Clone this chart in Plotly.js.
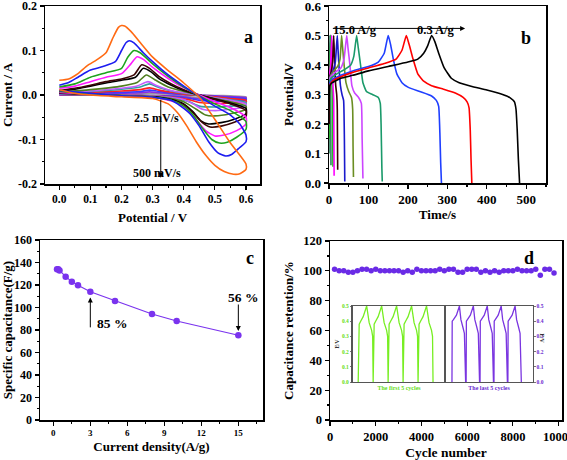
<!DOCTYPE html>
<html><head><meta charset="utf-8">
<script src="https://cdn.plot.ly/plotly-3.0.1.min.js"></script>
<style>body{margin:0;padding:0;background:#fff}#chart{width:567px;height:460px}</style>
</head><body><div id="chart"></div>
<script>
// ---------- Panel a: CV curves (potential V, current A) ----------
const cvLabels = ["500 mV/s","400 mV/s","300 mV/s","200 mV/s","150 mV/s","100 mV/s","75 mV/s","50 mV/s","25 mV/s","10 mV/s","5 mV/s","2.5 mV/s","1 mV/s"];
const cv1_v = [0,0.03,0.06,0.09,0.12,0.15,0.17,0.19,0.2,0.21,0.23,0.26,0.3,0.35,0.4,0.45,0.5,0.55,0.6,0.6,0.58,0.56,0.53,0.5,0.47,0.44,0.41,0.38,0.35,0.3,0.2,0.1,0.05,0];
const cv1_i = [0.033,0.036,0.048,0.066,0.079,0.095,0.125,0.152,0.156,0.155,0.143,0.118,0.085,0.055,0.027,-0.005,-0.055,-0.108,-0.155,-0.167,-0.177,-0.178,-0.172,-0.158,-0.135,-0.105,-0.07,-0.04,-0.02,-0.008,-0.004,0.0,0.004,0.012];
const cv2_v = [0,0.03,0.06,0.1,0.14,0.18,0.2,0.215,0.225,0.24,0.27,0.3,0.35,0.4,0.45,0.5,0.55,0.58,0.6,0.6,0.58,0.555,0.535,0.51,0.48,0.45,0.42,0.39,0.36,0.3,0.2,0.1,0];
const cv2_i = [0.022,0.028,0.04,0.056,0.064,0.075,0.1,0.118,0.122,0.117,0.095,0.075,0.045,0.02,-0.003,-0.025,-0.045,-0.065,-0.09,-0.105,-0.118,-0.133,-0.137,-0.13,-0.105,-0.07,-0.042,-0.025,-0.012,-0.005,-0.002,0.004,0.01];
const cv3_v = [0,0.05,0.1,0.15,0.2,0.22,0.24,0.26,0.3,0.35,0.4,0.45,0.5,0.55,0.6,0.6,0.57,0.54,0.515,0.49,0.46,0.43,0.4,0.36,0.3,0.2,0.1,0];
const cv3_i = [0.018,0.025,0.04,0.05,0.06,0.085,0.1,0.095,0.07,0.042,0.018,-0.002,-0.02,-0.035,-0.06,-0.077,-0.095,-0.106,-0.108,-0.1,-0.075,-0.045,-0.025,-0.012,-0.005,-0.002,0.003,0.008];
const cv4_v = [0,0.05,0.1,0.15,0.2,0.23,0.25,0.27,0.3,0.35,0.4,0.45,0.5,0.55,0.6,0.6,0.57,0.53,0.5,0.47,0.44,0.41,0.38,0.34,0.3,0.2,0.1,0];
const cv4_i = [0.015,0.02,0.03,0.04,0.048,0.07,0.086,0.08,0.062,0.037,0.016,0.0,-0.015,-0.028,-0.05,-0.065,-0.08,-0.09,-0.092,-0.08,-0.055,-0.032,-0.018,-0.01,-0.005,-0.002,0.002,0.006];
const cv5_v = [0,0.05,0.1,0.15,0.2,0.24,0.265,0.29,0.32,0.36,0.4,0.45,0.5,0.55,0.6,0.6,0.56,0.52,0.485,0.46,0.43,0.4,0.36,0.3,0.2,0.1,0];
const cv5_i = [0.01,0.015,0.022,0.03,0.036,0.045,0.068,0.06,0.042,0.025,0.012,0.0,-0.01,-0.02,-0.035,-0.048,-0.062,-0.07,-0.072,-0.062,-0.04,-0.022,-0.012,-0.005,-0.002,0.002,0.005];
const cv6_v = [0,0.05,0.1,0.15,0.2,0.245,0.27,0.295,0.32,0.36,0.4,0.45,0.5,0.55,0.6,0.6,0.56,0.52,0.48,0.455,0.43,0.4,0.36,0.3,0.2,0.1,0];
const cv6_i = [0.008,0.013,0.02,0.027,0.033,0.04,0.06,0.052,0.037,0.022,0.01,0.0,-0.009,-0.018,-0.03,-0.042,-0.055,-0.062,-0.065,-0.058,-0.038,-0.02,-0.01,-0.004,-0.002,0.002,0.004];
const cv7_v = [0,0.1,0.2,0.25,0.28,0.31,0.35,0.4,0.45,0.5,0.55,0.6,0.6,0.55,0.5,0.47,0.44,0.4,0.35,0.3,0.2,0.1,0];
const cv7_i = [0.006,0.012,0.02,0.028,0.045,0.033,0.018,0.008,0.0,-0.008,-0.015,-0.025,-0.032,-0.042,-0.047,-0.045,-0.032,-0.015,-0.007,-0.003,-0.001,0.002,0.004];
const cv8_v = [0,0.1,0.2,0.25,0.285,0.31,0.35,0.4,0.45,0.5,0.55,0.6,0.6,0.55,0.5,0.46,0.43,0.4,0.35,0.3,0.2,0.1,0];
const cv8_i = [0.005,0.009,0.015,0.02,0.03,0.022,0.012,0.005,0.0,-0.006,-0.012,-0.02,-0.026,-0.032,-0.035,-0.032,-0.02,-0.01,-0.005,-0.002,-0.001,0.001,0.003];
const cv9_v = [0,0.1,0.2,0.26,0.29,0.32,0.36,0.4,0.45,0.5,0.55,0.6,0.6,0.55,0.5,0.45,0.42,0.38,0.33,0.25,0.15,0];
const cv9_i = [0.004,0.008,0.013,0.018,0.025,0.017,0.009,0.004,-0.001,-0.006,-0.011,-0.017,-0.022,-0.025,-0.027,-0.025,-0.016,-0.008,-0.004,-0.002,0.0,0.002];
const cv10_v = [0,0.1,0.2,0.26,0.29,0.32,0.36,0.4,0.45,0.5,0.55,0.6,0.6,0.55,0.5,0.45,0.42,0.38,0.33,0.25,0.15,0];
const cv10_i = [0.003,0.006,0.009,0.012,0.016,0.011,0.006,0.002,-0.001,-0.004,-0.008,-0.012,-0.016,-0.018,-0.019,-0.017,-0.011,-0.006,-0.003,-0.001,0.0,0.001];
const cv11_v = [0,0.1,0.2,0.26,0.29,0.32,0.36,0.4,0.45,0.5,0.55,0.6,0.6,0.55,0.5,0.45,0.42,0.38,0.33,0.25,0.15,0];
const cv11_i = [0.002,0.004,0.006,0.008,0.011,0.008,0.004,0.001,-0.001,-0.003,-0.006,-0.009,-0.012,-0.013,-0.014,-0.012,-0.008,-0.004,-0.002,-0.001,0.0,0.001];
const cv12_v = [0,0.1,0.2,0.26,0.29,0.32,0.36,0.4,0.45,0.5,0.55,0.6,0.6,0.55,0.5,0.45,0.42,0.38,0.33,0.25,0.15,0];
const cv12_i = [0.001,0.003,0.004,0.005,0.007,0.005,0.003,0.001,0.0,-0.002,-0.004,-0.006,-0.009,-0.01,-0.01,-0.009,-0.006,-0.003,-0.002,-0.001,0.0,0.0];
const cv13_v = [0,0.1,0.2,0.26,0.29,0.32,0.36,0.4,0.45,0.5,0.55,0.6,0.6,0.55,0.5,0.45,0.42,0.38,0.33,0.25,0.15,0];
const cv13_i = [0.001,0.002,0.002,0.003,0.004,0.003,0.002,0.001,0,-0.001,-0.002,-0.004,-0.006,-0.007,-0.007,-0.006,-0.004,-0.002,-0.001,0,0,0];

// ---------- Panel b: GCD curves (time s, potential V) ----------
const gcdLabels = ["0.3 A/g","0.4 A/g","0.5 A/g","1 A/g","1.5 A/g","2 A/g","3 A/g","5 A/g","8 A/g","10 A/g","15 A/g"];
const g1_t = [0,2,8,30,60,100,150,200,225,240,250,260,268,278,292,310,330,360,400,440,460,470,474,477,480,483];
const g1_v = [0.2,0.33,0.34,0.355,0.365,0.38,0.395,0.41,0.42,0.44,0.465,0.5,0.48,0.44,0.39,0.355,0.34,0.328,0.315,0.3,0.288,0.275,0.25,0.18,0.08,0.0];
const g2_t = [0,2,8,30,60,100,140,170,185,196,203,213,225,240,260,290,320,340,350,355,358,360,362];
const g2_v = [0.2,0.33,0.345,0.36,0.375,0.39,0.405,0.42,0.45,0.5,0.47,0.42,0.37,0.345,0.33,0.318,0.305,0.29,0.275,0.255,0.18,0.08,0.0];
const g3_t = [0,2,8,30,60,100,125,140,150,156,163,172,185,200,230,260,272,278,281,283,285];
const g3_v = [0.2,0.34,0.35,0.365,0.38,0.395,0.41,0.44,0.5,0.47,0.42,0.37,0.34,0.325,0.31,0.295,0.28,0.26,0.17,0.07,0.0];
const g4_t = [0,1,5,20,40,55,63,70,74,80,86,95,110,125,130,132,134,135];
const g4_v = [0.2,0.34,0.355,0.37,0.385,0.4,0.43,0.5,0.46,0.4,0.34,0.31,0.3,0.29,0.27,0.2,0.05,0.005];
const g5_t = [0,1,4,15,30,38,45,48,53,58,65,75,82,84,86];
const g5_v = [0.2,0.35,0.36,0.375,0.39,0.42,0.5,0.46,0.4,0.33,0.305,0.29,0.27,0.15,0.015];
const g6_t = [0,1,3,12,22,28,32,35,39,43,50,57,60,61,62];
const g6_v = [0.2,0.35,0.36,0.38,0.395,0.42,0.5,0.45,0.39,0.34,0.31,0.29,0.25,0.12,0.02];
const g7_t = [0,1,3,10,16,21,23,26,29,33,37,39,40];
const g7_v = [0.2,0.35,0.36,0.38,0.41,0.5,0.45,0.38,0.33,0.3,0.28,0.15,0.005];
const g8_t = [0,0.5,2,6,9,12,13.5,15,17,19.5,21,22];
const g8_v = [0.2,0.35,0.36,0.38,0.41,0.5,0.44,0.38,0.33,0.3,0.25,0.045];
const g9_t = [0,0.5,1.5,4,7,8,9,10.5,12,13];
const g9_v = [0.2,0.35,0.37,0.4,0.5,0.44,0.37,0.32,0.28,0.025];
const g10_t = [0,0.5,1.5,3,5,6,7,8.5,10];
const g10_v = [0.15,0.35,0.37,0.41,0.5,0.43,0.36,0.3,0.055];
const g11_t = [0,0.5,1.5,2.5,3.2,4,5];
const g11_v = [0.1,0.36,0.4,0.5,0.42,0.34,0.06];

// ---------- Panel c: rate capability ----------
const currentDensity = [0.3,0.4,0.5,1,1.5,2,3,5,8,10,15];
const specCap = [134,134,133,127.4,123,119.7,114,105.8,94.2,88,75.3];

// ---------- Panel d: cycling ----------
const cycles = [200,400,600,800,1000,1200,1400,1600,1800,2000,2200,2400,2600,2800,3000,3200,3400,3600,3800,4000,4200,4400,4600,4800,5000,5200,5400,5600,5800,6000,6200,6400,6600,6800,7000,7200,7400,7600,7800,8000,8200,8400,8600,8800,9000,9200,9400,9600,9800];
const retention = [101,100,100,99,99,100,101,101,100,101,100,100,100,100,100,99,100,99,101,100,100,100,100,101,100,101,101,99,99,101,101,101,99,100,99,100,99,100,100,100,101,100,100,100,101,97,101,101,98.5];

// insets: first / last 5 cycles (arbitrary time, E/V)
const first_t = [11,13,16,21,28,33,38,40,41, 43,46,51,58,63,68,70,71, 73,76,81,88,93,98,100,101, 103,106,111,118,123,128,130,131, 133,136,141,148,153,158,160,161];
const first_e = [0,0.38,0.4,0.43,0.5,0.39,0.34,0.3,0, 0.38,0.4,0.43,0.5,0.39,0.34,0.3,0, 0.38,0.4,0.43,0.5,0.39,0.34,0.3,0, 0.38,0.4,0.43,0.5,0.39,0.34,0.3,0, 0.38,0.4,0.43,0.5,0.39,0.34,0.3,0];
const last_t = [13,13.5,16,22,28,31,35,38,40.5,41.5, 42,44,50,56,59,63,66,68.5,69.5, 70,72,78,84,87,91,94,96.5,97.5, 98,100,106,112,115,119,122,124.5,125.5, 126,128,134,140,143,147,150,152.5,153.5];
const last_e = [0,0.4,0.41,0.44,0.5,0.41,0.36,0.32,0.0,0.0, 0.4,0.41,0.44,0.5,0.41,0.36,0.32,0.0,0.0, 0.4,0.41,0.44,0.5,0.41,0.36,0.32,0.0,0.0, 0.4,0.41,0.44,0.5,0.41,0.36,0.32,0.0,0.0, 0.4,0.41,0.44,0.5,0.41,0.36,0.32,0.0,0.0];

// ---------- styling ----------
const FONT = 'Liberation Serif';
const cvColors = ['#ff6a13','#1c1cf0','#1da31d','#ff1aff','#3a0505','#000000','#4f7f1f','#c25cff','#2f9f9f','#ff2020','#3b3bff','#8a2be2','#9a9a9a'];
const cvX = [cv1_v,cv2_v,cv3_v,cv4_v,cv5_v,cv6_v,cv7_v,cv8_v,cv9_v,cv10_v,cv11_v,cv12_v,cv13_v];
const cvY = [cv1_i,cv2_i,cv3_i,cv4_i,cv5_i,cv6_i,cv7_i,cv8_i,cv9_i,cv10_i,cv11_i,cv12_i,cv13_i];
const gColors = ['#000000','#ff0000','#1f3fff','#1a9a6a','#cc44ff','#6b8e23','#1a1acc','#3a0000','#ff00ff','#22bb22','#2f7f5f'];
const gX = [g1_t,g2_t,g3_t,g4_t,g5_t,g6_t,g7_t,g8_t,g9_t,g10_t,g11_t];
const gY = [g1_v,g2_v,g3_v,g4_v,g5_v,g6_v,g7_v,g8_v,g9_v,g10_v,g11_v];

const traces = [];
for (let k = cvX.length - 1; k >= 0; k--) {
  traces.push({x: cvX[k], y: cvY[k], name: cvLabels[k], type: 'scatter', mode: 'lines',
    line: {color: cvColors[k], width: 1.6, shape: 'spline', smoothing: 0.6}, xaxis: 'x', yaxis: 'y', showlegend: false});
}
for (let k = gX.length - 1; k >= 0; k--) {
  traces.push({x: gX[k], y: gY[k], name: gcdLabels[k], type: 'scatter', mode: 'lines',
    line: {color: gColors[k], width: 1.6, shape: 'spline', smoothing: 0.4}, xaxis: 'x2', yaxis: 'y2', showlegend: false});
}
traces.push({x: currentDensity, y: specCap, type: 'scatter', mode: 'lines+markers', name: 'capacitance',
  line: {color: '#7a33ee', width: 1.2}, marker: {color: '#7a33ee', size: 6.5}, xaxis: 'x3', yaxis: 'y3', showlegend: false});
traces.push({x: cycles, y: retention, type: 'scatter', mode: 'markers', name: 'retention',
  marker: {color: '#6a2be6', size: 5.5}, xaxis: 'x4', yaxis: 'y4', showlegend: false});
traces.push({x: first_t, y: first_e, type: 'scatter', mode: 'lines', name: 'first 5',
  line: {color: '#77ee22', width: 1.3}, xaxis: 'x5', yaxis: 'y5', showlegend: false});
traces.push({x: last_t, y: last_e, type: 'scatter', mode: 'lines', name: 'last 5',
  line: {color: '#7a35e0', width: 1.3}, xaxis: 'x6', yaxis: 'y6', showlegend: false});

const W = 567, H = 460;
const px = v => v / W, py = v => 1 - v / H;
const tf = (s, c) => ({family: FONT, size: s, color: c || '#000', weight: 'bold'});

function axis(dom, range, opts) {
  return Object.assign({
    domain: dom, range: range, showgrid: false, zeroline: false,
    showline: true, linecolor: '#000', linewidth: 1.5, mirror: true,
    ticks: 'outside', ticklen: 4, tickwidth: 1.2, tickcolor: '#000',
    ticklabeloverflow: 'allow', tickfont: tf(12),
  }, opts);
}

const layout = {
  width: W, height: H, margin: {l: 0, r: 0, t: 0, b: 0},
  paper_bgcolor: '#fff', plot_bgcolor: '#fff', showlegend: false,
  font: {family: FONT, color: '#000', weight: 'bold'},
  xaxis: axis([px(45), px(260)], [-0.046, 0.645], {anchor: 'y', tickvals: [0,0.1,0.2,0.3,0.4,0.5,0.6], ticktext: ['0.0','0.1','0.2','0.3','0.4','0.5','0.6'], tickfont: tf(11.5),
    minor: {tickvals: [0.05,0.15,0.25,0.35,0.45,0.55], ticks: 'outside', ticklen: 2, tickcolor: '#000'},
    title: {text: 'Potential / V', font: tf(13), standoff: 8}}),
  yaxis: axis([py(184), py(6)], [-0.2, 0.2], {anchor: 'x', tickvals: [-0.2,-0.1,0,0.1,0.2], ticktext: ['-0.2','-0.1','0.0','0.1','0.2'], tickfont: tf(12),
    minor: {tickvals: [-0.15,-0.05,0.05,0.15], ticks: 'outside', ticklen: 2, tickcolor: '#000'},
    title: {text: 'Current / A', font: tf(13), standoff: 6}}),
  xaxis2: axis([px(329), px(546)], [0, 550], {anchor: 'y2', dtick: 100, tickfont: tf(13),
    minor: {dtick: 50, ticks: 'outside', ticklen: 2, tickcolor: '#000'},
    title: {text: 'Time/s', font: tf(13), standoff: 0}}),
  yaxis2: axis([py(183), py(6)], [0, 0.6], {anchor: 'x2', dtick: 0.1, tickformat: '.1f', tickfont: tf(13),
    minor: {dtick: 0.05, ticks: 'outside', ticklen: 2, tickcolor: '#000'},
    title: {text: 'Potential/V', font: tf(13), standoff: 8}}),
  xaxis3: axis([px(40), px(263)], [-1.08, 17.0], {anchor: 'y3', dtick: 3, tick0: 0, tickfont: tf(9),
    minor: {dtick: 1.5, ticks: 'outside', ticklen: 2, tickcolor: '#000'},
    title: {text: 'Current density(A/g)', font: tf(13), standoff: 4}}),
  yaxis3: axis([py(420), py(240)], [0, 160], {anchor: 'x3', dtick: 20, tickfont: tf(12),
    minor: {dtick: 10, ticks: 'outside', ticklen: 2, tickcolor: '#000'},
    title: {text: 'Specific capacitance(F/g)', font: tf(13), standoff: 3}}),
  xaxis4: axis([px(330), px(562)], [0, 10149], {anchor: 'y4', dtick: 2000, tickformat: 'd', tickfont: tf(12.5),
    minor: {dtick: 1000, ticks: 'outside', ticklen: 2, tickcolor: '#000'},
    title: {text: 'Cycle number', font: tf(13.5), standoff: 6}}),
  yaxis4: axis([py(420), py(241)], [0, 120], {anchor: 'x4', dtick: 20, tickfont: tf(12.5),
    minor: {dtick: 10, ticks: 'outside', ticklen: 2, tickcolor: '#000'},
    title: {text: 'Capacitance retention/%', font: tf(13), standoff: 6}}),
  xaxis5: axis([px(352.7), px(445.5)], [0, 186], {anchor: 'y5', showticklabels: false, ticks: '', linecolor: '#555', linewidth: 1.3,
    title: {text: 'The first 5 cycles', font: tf(6, '#66dd22'), standoff: 3}}),
  yaxis5: axis([py(382), py(306)], [0, 0.5], {anchor: 'x5', dtick: 0.1, tickformat: '.1f', linecolor: '#555', linewidth: 1.3, ticklen: 1.5, tickwidth: 0.8, tickcolor: '#555',
    tickfont: tf(5.5, '#66dd22'),
    title: {text: 'E/V', font: tf(5.5, '#333'), standoff: 2}}),
  xaxis6: axis([px(445.5), px(532.7)], [0, 175.4], {anchor: 'y6', showticklabels: false, ticks: '', linecolor: '#555', linewidth: 1.3,
    title: {text: 'The last 5 cycles', font: tf(6, '#6a2bd0'), standoff: 3}}),
  yaxis6: axis([py(382), py(306)], [0, 0.5], {anchor: 'x6', side: 'right', dtick: 0.1, tickformat: '.1f', linecolor: '#555', linewidth: 1.3, ticklen: 1.5, tickwidth: 0.8, tickcolor: '#555',
    tickfont: tf(5.5, '#6a2bd0')}),
  annotations: [
    {text: 'a', xref: 'paper', yref: 'paper', x: px(248), y: py(25), showarrow: false, font: tf(18)},
    {text: 'b', xref: 'paper', yref: 'paper', x: px(533), y: py(26), showarrow: false, font: tf(18)},
    {text: 'c', xref: 'paper', yref: 'paper', x: px(250), y: py(258), showarrow: false, font: tf(18)},
    {text: 'd', xref: 'paper', yref: 'paper', x: px(536), y: py(258), showarrow: false, font: tf(18)},
    {text: '2.5 mV/s', xref: 'paper', yref: 'paper', x: px(132), y: py(109), showarrow: false, font: tf(12)},
    {text: '500 mV/s', xref: 'paper', yref: 'paper', x: px(131), y: py(173), showarrow: false, font: tf(12)},
    {text: '', xref: 'x', yref: 'y', x: 0.326, y: -0.186, ax: 0.326, ay: -0.007, axref: 'x', ayref: 'y', showarrow: true, arrowhead: 2, arrowsize: 1, arrowwidth: 1, arrowcolor: '#000'},
    {text: '15.0 A/g', xref: 'paper', yref: 'paper', x: px(355), y: py(21), showarrow: false, font: tf(12.5)},
    {text: '0.3 A/g', xref: 'paper', yref: 'paper', x: px(457), y: py(21), showarrow: false, font: tf(12.5)},
    {text: '', xref: 'x2', yref: 'y2', x: 345, y: 0.524, ax: 6, ay: 0.524, axref: 'x2', ayref: 'y2', showarrow: true, arrowhead: 2, arrowsize: 1, arrowwidth: 1, arrowcolor: '#000'},
    {text: '85 %', xref: 'paper', yref: 'paper', x: px(95), y: py(333), showarrow: false, font: tf(13.5)},
    {text: '', xref: 'x3', yref: 'y3', x: 3, y: 109, ax: 3, ay: 81, axref: 'x3', ayref: 'y3', showarrow: true, arrowhead: 2, arrowsize: 1, arrowwidth: 1, arrowcolor: '#000'},
    {text: '56 %', xref: 'paper', yref: 'paper', x: px(243), y: py(297), showarrow: false, font: tf(13.5)},
    {text: '', xref: 'x3', yref: 'y3', x: 15, y: 79, ax: 15, ay: 104, axref: 'x3', ayref: 'y3', showarrow: true, arrowhead: 2, arrowsize: 1, arrowwidth: 1, arrowcolor: '#000'},
    {text: 'E/V', xref: 'paper', yref: 'paper', x: px(547), y: py(344), showarrow: false, textangle: 90, font: tf(5.5, '#333')}
  ]
};

Plotly.newPlot('chart', traces, layout, {staticPlot: true, displayModeBar: false});
</script></body></html>
